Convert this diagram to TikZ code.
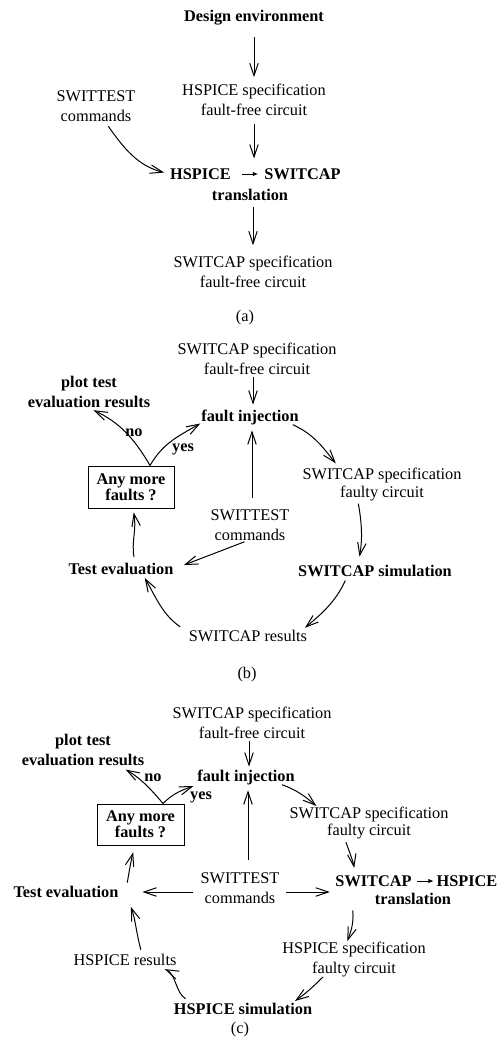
\documentclass[tikz,border=0pt]{standalone}
\usepackage{fontspec}
\setmainfont{Liberation Serif}
\usetikzlibrary{arrows.meta,fit}
\begin{document}
\begin{tikzpicture}[x=1pt,y=1pt,
  txt/.style={inner sep=0pt, align=center, font=\fontsize{16.3}{19.5}\selectfont},
  bt/.style={inner sep=0pt, align=center, font=\fontsize{16.3}{19.5}\selectfont\bfseries},
  arr/.style={-{Straight Barb[length=12.5pt,width=8.5pt]}, line width=1pt},
  sarr/.style={-{Latex[length=5.5pt,width=4.5pt]}, line width=1pt},
  qbox/.style={draw, line width=1pt, minimum width=86pt, minimum height=42pt, inner sep=0pt, align=center, font=\fontsize{16.3}{16}\selectfont\bfseries}
]
\useasboundingbox (0,0) rectangle (501,-1046);

% ---------------- (a)
\node[bt] (dA) at (254,-18) {Design environment};
\node[txt] (hsA) at (254,-100) {HSPICE specification\\fault-free circuit};
\node[txt] (swA) at (96,-106) {SWITTEST\\commands};
\node[bt] (HSa) at (200.5,-174) {HSPICE};
\node[bt] (SWa) at (302.5,-174) {SWITCAP};
\node[bt] (trA) at (250,-195) {translation};
\node[fit=(HSa)(SWa)(trA), inner sep=0pt] (trAll) {};
\node[txt] (scA) at (253,-272) {SWITCAP specification\\fault-free circuit};
\node[txt] (capA) at (245,-318) {(a)};

\draw[arr, shorten <=11.7pt, shorten >=7pt] (dA.south) -- (hsA.north);
\draw[arr, shorten <=8pt, shorten >=9.6pt] (hsA.south) -- (hsA.south |- trAll.north);
\draw[sarr, shorten <=11pt, shorten >=6pt] (HSa.east) -- (SWa.west);
\draw[arr, shorten <=6pt, shorten >=6pt] (swA.-60) to[out=-55,in=166] (HSa.west);
\draw[arr, shorten <=6.5pt, shorten >=11pt] ([xshift=3pt]trA.south) -- (scA.north);

% ---------------- (b)
\node[txt] (ffB) at (257,-359) {SWITCAP specification\\fault-free circuit};
\node[bt] (fiB) at (250,-417) {fault injection};
\node[bt] (ptB) at (89,-392) {plot test\\evaluation results};
\node[qbox] (boxB) at (131,-487) {Any more\\faults ?};
\node[txt] (swB) at (250,-525) {SWITTEST\\commands};
\node[bt] (teB) at (121,-569) {Test evaluation};
\node[txt] (fsB) at (382,-485) {SWITCAP specification\\[-1.5pt]faulty circuit};
\node[bt] (simB) at (375,-571) {SWITCAP simulation};
\node[txt] (resB) at (248,-636) {SWITCAP results};
\node[txt] (capB) at (247,-675) {(b)};
\node[bt] (noB) at (134,-433) {no};
\node[bt] (yesB) at (183,-449) {yes};

\draw[arr, shorten <=2pt, shorten >=4.7pt] ([xshift=-4pt]ffB.south) -- ([xshift=3pt]fiB.north);
\draw[arr, shorten >=6pt] ([xshift=19pt]boxB.north) to[out=120,in=-25] ([xshift=-1pt]ptB.south);
\draw[arr, shorten >=1pt] ([xshift=19pt]boxB.north) to[out=60,in=-150] ([yshift=-6pt]fiB.west);
\draw[arr, shorten <=11.7pt, shorten >=5.7pt] ([xshift=2pt]swB.north) -- ([xshift=2pt]fiB.south);
\draw[arr, shorten <=3.7pt, shorten >=11pt] ([xshift=-2pt]swB.south) -- (teB.east);
\draw[arr, shorten <=6pt, shorten >=4pt] ([xshift=14pt]teB.north) to[out=100,in=-80] ([xshift=2pt]boxB.south);
\draw[arr, shorten >=6.5pt] ([xshift=-6pt]fiB.south east) to[out=-25,in=130] ([xshift=-42pt]fsB.north);
\draw[arr, shorten <=2pt, shorten >=8.5pt] ([xshift=-24pt]fsB.south) to[out=-80,in=80] ([xshift=-17pt]simB.north);
\draw[arr, shorten <=4pt, shorten >=3.5pt] ([xshift=-28pt]simB.south) to[out=-115,in=40] ([xshift=-5pt]resB.north east);
\draw[arr, shorten <=5.5pt, shorten >=3.5pt] ([xshift=-4pt]resB.north west) to[out=145,in=-60] ([xshift=22pt]teB.south);

% ---------------- (c)
\node[txt] (ffC) at (252,-723) {SWITCAP specification\\fault-free circuit};
\node[bt] (fiC) at (246,-777) {fault injection};
\node[bt] (ptC) at (83,-750) {plot test\\evaluation results};
\node[qbox, minimum width=87pt, minimum height=41pt] (boxC) at (140.5,-824.5) {Any more\\faults ?};
\node[txt] (swC) at (240,-888) {SWITTEST\\commands};
\node[bt] (teC) at (66,-892) {Test evaluation};
\node[bt] (SWc) at (373.5,-881) {SWITCAP};
\node[bt] (HSc) at (467,-881) {HSPICE};
\node[bt] (trC) at (413,-899) {translation};
\node[txt] (fsC) at (369,-823.5) {SWITCAP specification\\[-2.5pt]faulty circuit};
\node[txt] (hfC) at (354,-959.5) {HSPICE specification\\faulty circuit};
\node[bt] (hsimC) at (243,-1009) {HSPICE simulation};
\node[txt] (hrC) at (125,-960) {HSPICE results};
\node[txt] (capC) at (240,-1030) {(c)};
\node[bt] (noC) at (153,-778) {no};
\node[bt] (yesC) at (201,-797) {yes};

\draw[arr, shorten <=2pt, shorten >=2.7pt] ([xshift=-3pt]ffC.south) -- ([xshift=3pt]fiC.north);
\draw[arr, shorten >=7.7pt] ([xshift=22.5pt]boxC.north) to[out=130,in=-30] ([xshift=36pt]ptC.south);
\draw[arr, shorten >=4pt] ([xshift=22.5pt]boxC.north) to[out=45,in=-160] (fiC.south west);
\draw[arr, shorten <=12.7pt, shorten >=5.7pt] ([xshift=8pt]swC.north) -- ([xshift=2pt]fiC.south);
\draw[arr, shorten <=7.6pt, shorten >=23.8pt] ([yshift=-4pt]swC.west) -- (teC.east);
\draw[arr, shorten <=6.6pt, shorten >=5.5pt] ([yshift=-4pt]swC.east) -- ([yshift=-11pt]SWc.west);
\draw[sarr, shorten <=5.5pt, shorten >=2.7pt] (SWc.east) -- (HSc.west);
\draw[arr, shorten >=2pt] ([xshift=-13pt]fiC.south east) to[out=-20,in=140] ([xshift=-51pt]fsC.north);
\draw[arr, shorten <=2.7pt, shorten >=7.5pt] ([xshift=-24pt]fsC.south) to[out=-70,in=100] ([xshift=-18pt]SWc.north);
\draw[arr, shorten >=1pt] ([xshift=-22pt,yshift=-5.5pt]trC.south west) to[out=-85,in=70] ([xshift=-7pt]hfC.north);
\draw[arr, shorten >=3.5pt] ([xshift=-31pt]hfC.south) to[out=-135,in=35] ([xshift=49pt]hsimC.north);
\draw[arr, shorten <=8.5pt, shorten >=7.5pt] ([xshift=-50pt]hsimC.north) to[out=150,in=-25] ([xshift=33pt]hrC.south);
\draw[arr, shorten <=4.5pt, shorten >=9.5pt] ([xshift=17pt]hrC.north) to[out=105,in=-70] ([xshift=9pt]teC.south east);
\draw[arr, shorten <=3.5pt, shorten >=7pt] ([xshift=8pt]teC.north east) to[out=80,in=-105] ([xshift=-5.5pt]boxC.south);
\end{tikzpicture}
\end{document}
